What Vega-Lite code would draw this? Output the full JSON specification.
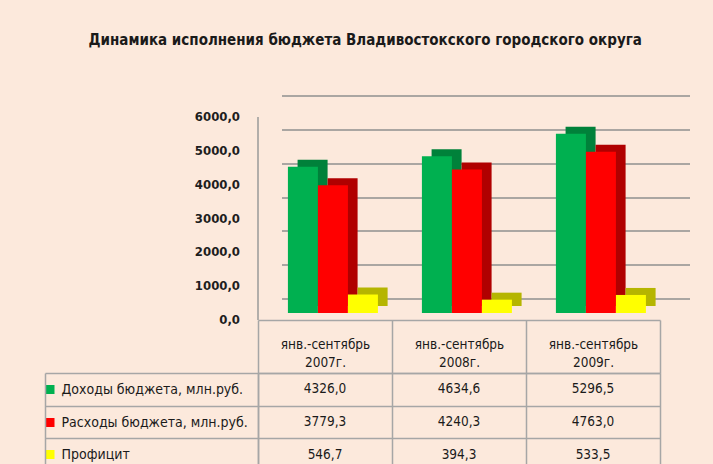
{
  "$schema": "https://vega.github.io/schema/vega-lite/v6.json",
  "background": "#FCE9DC",
  "padding": {"left": 40, "top": 33, "right": 50, "bottom": 0},
  "autosize": {"type": "pad"},
  "bounds": "flush",
  "spacing": 60,
  "title": {
    "text": "Динамика исполнения бюджета Владивостокского городского округа",
    "fontSize": 15,
    "fontWeight": "bold",
    "color": "#1A1A1A",
    "anchor": "start",
    "dx": 48,
    "offset": 56
  },
  "config": {
    "view": {"stroke": null},
    "font": "DejaVu Sans Condensed, Liberation Sans Narrow, Roboto, sans-serif",
    "locale": {"number": {"decimal": ",", "thousands": " ", "grouping": [3], "currency": ["", ""]}}
  },
  "data": {
    "values": [
      {"period": "янв.-сентябрь 2007г.", "series": "Доходы бюджета, млн.руб.", "value": 4326.0},
      {"period": "янв.-сентябрь 2007г.", "series": "Расходы бюджета, млн.руб.", "value": 3779.3},
      {"period": "янв.-сентябрь 2007г.", "series": "Профицит", "value": 546.7},
      {"period": "янв.-сентябрь 2008г.", "series": "Доходы бюджета, млн.руб.", "value": 4634.6},
      {"period": "янв.-сентябрь 2008г.", "series": "Расходы бюджета, млн.руб.", "value": 4240.3},
      {"period": "янв.-сентябрь 2008г.", "series": "Профицит", "value": 394.3},
      {"period": "янв.-сентябрь 2009г.", "series": "Доходы бюджета, млн.руб.", "value": 5296.5},
      {"period": "янв.-сентябрь 2009г.", "series": "Расходы бюджета, млн.руб.", "value": 4763.0},
      {"period": "янв.-сентябрь 2009г.", "series": "Профицит", "value": 533.5}
    ]
  },
  "vconcat": [
    {
      "width": 408,
      "height": 203,
      "layer": [
        {
          "mark": {"type": "bar", "yOffset": -7},
          "encoding": {
            "x": {"field": "period", "type": "nominal", "sort": ["янв.-сентябрь 2007г.", "янв.-сентябрь 2008г.", "янв.-сентябрь 2009г."], "scale": {"paddingInner": 0, "paddingOuter": 0.0224, "align": 0}, "axis": null},
            "xOffset": {"field": "series", "type": "nominal", "sort": ["Доходы бюджета, млн.руб.", "Расходы бюджета, млн.руб.", "Профицит"], "scale": {"paddingInner": 0, "paddingOuter": 0.733, "align": 0.9}},
            "y": {
              "field": "value", "type": "quantitative",
              "scale": {"domain": [0, 6000]},
              "axis": {
                "orient": "left", "title": null, "values": [0, 1000, 2000, 3000, 4000, 5000, 6000], "tickCount": 7, "format": ".1f",
                "labelOverlap": false, "grid": false,
                "ticks": false, "tickSize": 0, "translate": 7, "offset": 7,
                "labelFontWeight": "bold", "labelFontSize": 13, "labelColor": "#1E1E1E", "labelPadding": 18,
                "domain": true, "domainColor": "#9A9A9A", "domainWidth": 1.5
              }
            },
            "color": {"field": "series", "type": "nominal", "sort": ["Доходы бюджета, млн.руб.", "Расходы бюджета, млн.руб.", "Профицит"], "scale": {"range": ["#00813A", "#B00000", "#B5B500"]}, "legend": null}
          }
        },
        {
          "mark": {"type": "bar"},
          "encoding": {
            "x": {"field": "period", "type": "nominal", "sort": ["янв.-сентябрь 2007г.", "янв.-сентябрь 2008г.", "янв.-сентябрь 2009г."], "axis": null},
            "xOffset": {"field": "series", "type": "nominal", "sort": ["Доходы бюджета, млн.руб.", "Расходы бюджета, млн.руб.", "Профицит"], "scale": {"paddingInner": 0, "paddingOuter": 0.733, "align": 0.68}},
            "y": {
              "field": "value", "type": "quantitative",
              "axis": {
                "orient": "left", "title": null, "values": [0, 1000, 2000, 3000, 4000, 5000, 6000], "tickCount": 7,
                "labels": false, "ticks": false, "domain": false,
                "grid": true, "gridColor": "#8F8F8F", "gridWidth": 1.5,
                "translate": 24, "tickOffset": -38
              }
            },
            "color": {"field": "series", "type": "nominal", "sort": ["Доходы бюджета, млн.руб.", "Расходы бюджета, млн.руб.", "Профицит"], "scale": {"range": ["#00B050", "#FF0000", "#FFFF00"]}, "legend": null}
          }
        }
      ],
      "resolve": {"scale": {"color": "independent", "xOffset": "independent"}, "axis": {"y": "independent"}}
    },
    {
      "width": 402,
      "height": 98,
      "layer": [
        {
          "mark": {"type": "text", "fontSize": 13.5, "color": "#1A1A1A"},
          "encoding": {
            "x": {
              "field": "period", "type": "nominal", "sort": ["янв.-сентябрь 2007г.", "янв.-сентябрь 2008г.", "янв.-сентябрь 2009г."],
              "scale": {"paddingInner": 0, "paddingOuter": 0},
              "axis": {
                "orient": "top", "title": null, "labelExpr": "split(datum.label, ' ')", "labelAngle": 0,
                "labelAlign": "center", "labelBaseline": "bottom", "labelPadding": -31, "labelLineHeight": 18,
                "labelFontSize": 13.5, "labelColor": "#1A1A1A",
                "tickBand": "extent", "tickSize": 53, "tickColor": "#A6A6A6", "tickWidth": 1.5,
                "domainColor": "#A6A6A6", "domainWidth": 1.5,
                "grid": true, "gridColor": "#A6A6A6", "gridWidth": 1.5
              }
            },
            "y": {
              "field": "series", "type": "nominal", "sort": ["Доходы бюджета, млн.руб.", "Расходы бюджета, млн.руб.", "Профицит"],
              "scale": {"paddingInner": 0, "paddingOuter": 0},
              "axis": {
                "title": null, "labelAlign": "left", "labelPadding": -16, "labelLimit": 0,
                "labelFontSize": 14, "labelColor": "#1A1A1A",
                "tickBand": "extent", "tickSize": 213, "tickColor": "#A6A6A6", "tickWidth": 1.5,
                "domainColor": "#A6A6A6", "domainWidth": 1.5,
                "grid": true, "gridColor": "#A6A6A6", "gridWidth": 1.5
              }
            },
            "text": {"field": "value", "type": "quantitative", "format": ".1f"}
          }
        },
        {
          "mark": {"type": "text", "opacity": 0},
          "encoding": {
            "x": {
              "field": "period", "type": "nominal", "sort": ["янв.-сентябрь 2007г.", "янв.-сентябрь 2008г.", "янв.-сентябрь 2009г."],
              "axis": {"orient": "top", "offset": 53, "title": null, "labels": false, "ticks": false, "grid": false, "domainColor": "#A6A6A6", "domainWidth": 1.5}
            },
            "y": {
              "field": "series", "type": "nominal", "sort": ["Доходы бюджета, млн.руб.", "Расходы бюджета, млн.руб.", "Профицит"],
              "axis": {
                "orient": "right", "offset": -615, "title": null, "labels": false, "grid": false,
                "tickSize": 9, "tickWidth": 9,
                "tickColor": {"condition": [{"test": "datum.value === 'Доходы бюджета, млн.руб.'", "value": "#00B050"}, {"test": "datum.value === 'Расходы бюджета, млн.руб.'", "value": "#FF0000"}], "value": "#FFFF00"},
                "domainColor": "#A6A6A6", "domainWidth": 1.5
              }
            },
            "text": {"value": ""}
          }
        }
      ],
      "resolve": {"axis": {"x": "independent", "y": "independent"}}
    }
  ]
}
